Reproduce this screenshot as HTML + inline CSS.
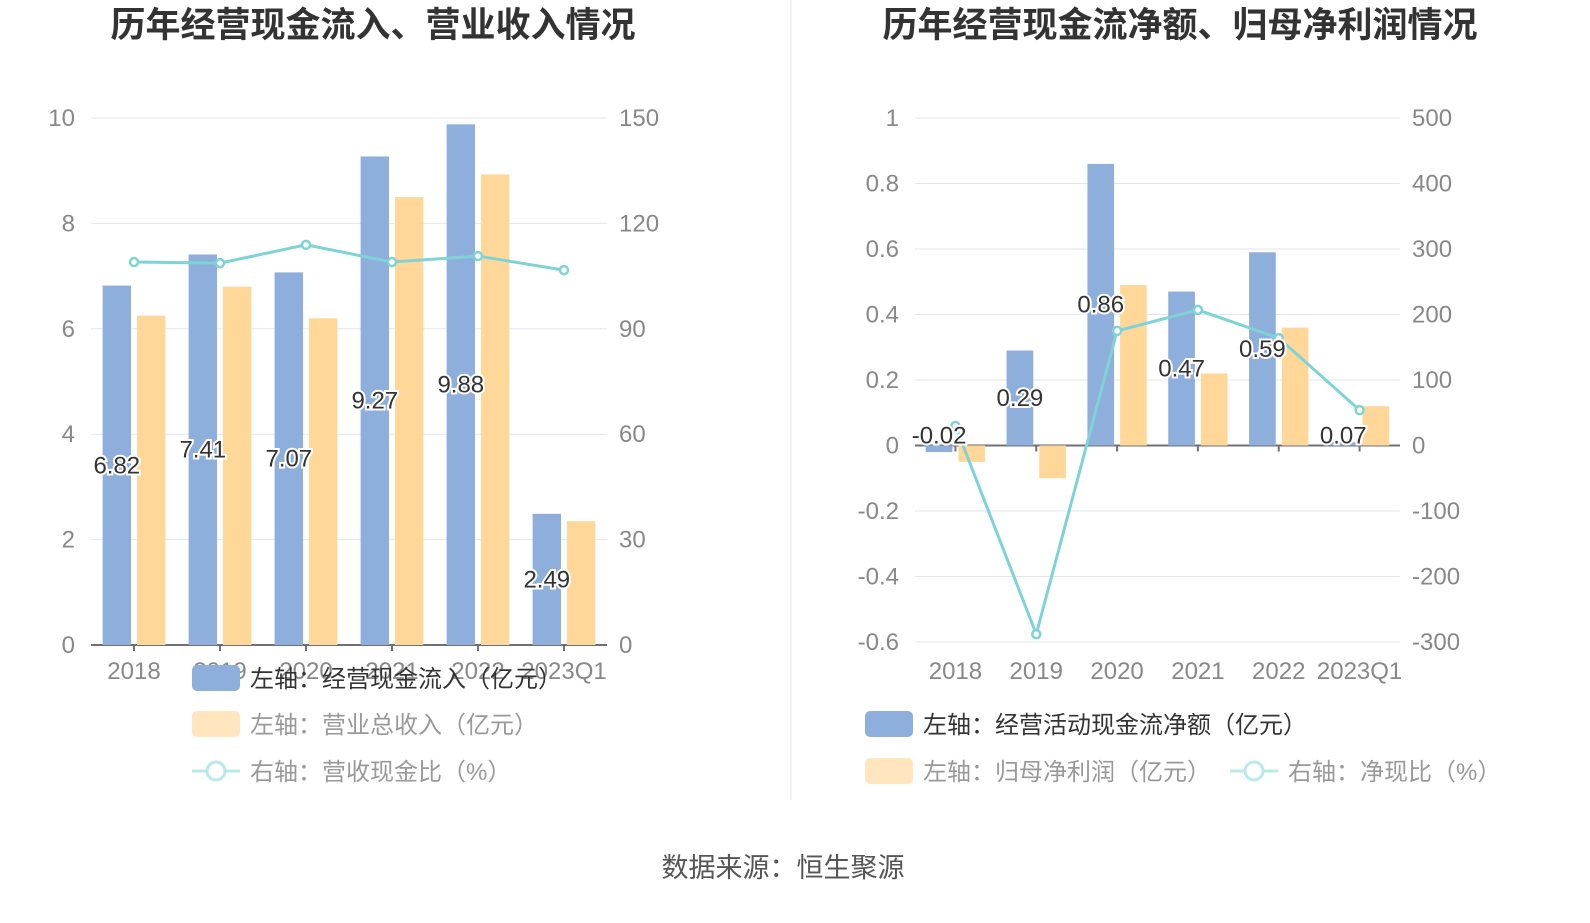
<!DOCTYPE html>
<html><head><meta charset="utf-8"><style>
body{margin:0;background:#fff;font-family:"Liberation Sans","Noto Sans CJK SC",sans-serif}
svg text{font-family:"Liberation Sans","Noto Sans CJK SC",sans-serif}
</style></head><body>
<svg id="c" width="1590" height="918">
<text x="373" y="37" text-anchor="middle" font-size="35" font-weight="bold" fill="#333">历年经营现金流入、营业收入情况</text>
<text x="1180" y="37" text-anchor="middle" font-size="35" font-weight="bold" fill="#333">历年经营现金流净额、归母净利润情况</text>
<line x1="791" y1="0" x2="791" y2="800" stroke="#e6e6e6"/>
<text x="783" y="877" text-anchor="middle" font-size="27" fill="#555">数据来源：恒生聚源</text>
<g id="L"></g>
<g id="R"></g>
</svg>
<script>
const cats=["2018","2019","2020","2021","2022","2023Q1"];
const leftInflow=[6.82,7.41,7.07,9.27,9.88,2.49];
const leftRevenue=[6.25,6.8,6.2,8.5,8.93,2.35];
const leftRatio=[109,108.7,113.9,109,110.7,106.7];
const leftTicks=[0,2,4,6,8,10];
const leftRTicks=[0,30,60,90,120,150];
const rightCash=[-0.02,0.29,0.86,0.47,0.59,0.01];
const rightCashLabels=["-0.02","0.29","0.86","0.47","0.59","0.07"];
const rightProfit=[-0.05,-0.1,0.49,0.22,0.36,0.12];
const rightRatio=[30,-288,175,207,164,54];
const rightTicks=[-0.6,-0.4,-0.2,0,0.2,0.4,0.6,0.8,1];
const rightRTicks=[-300,-200,-100,0,100,200,300,400,500];
const NS="http://www.w3.org/2000/svg";
function mk(p,t,a,txt){const e=document.createElementNS(NS,t);for(const k in a)e.setAttribute(k,a[k]);if(txt!==undefined)e.textContent=txt;p.appendChild(e);return e;}
function chart(g,o){
 const y=v=>o.y0+(v-o.min)/(o.max-o.min)*(o.y1-o.y0);
 const yr=v=>o.y0+(v-o.rmin)/(o.rmax-o.rmin)*(o.y1-o.y0);
 const band=(o.x1-o.x0)/cats.length;
 const cx=i=>o.x0+band*(i+0.5);
 o.ticks.forEach(t=>{
  const l=mk(g,'line',{x1:o.x0,x2:o.x1,y1:y(t),y2:y(t),stroke:'#e0e6f1'});
  
  
  const tx=mk(g,'text',{x:o.x0-16,y:y(t)+8,'text-anchor':'end','font-size':24,fill:'#888'},String(t));
  
  
 });
 o.rticks.forEach(t=>{
  const tx=mk(g,'text',{x:o.x1+12,y:yr(t)+8,'font-size':24,fill:'#888'},String(t));
  
  
 });
 const z=y(0);
 const ax=mk(g,'line',{x1:o.x0,x2:o.x1,y1:z,y2:z,stroke:'#6e7079','stroke-width':2});
 
 
 cats.forEach((c,i)=>{
  const tk=mk(g,'line',{x1:cx(i),x2:cx(i),y1:z,y2:z+6,stroke:'#6e7079','stroke-width':2});
  
  
  const t=mk(g,'text',{x:cx(i),y:o.labY,'text-anchor':'middle','font-size':24,fill:'#888'},c);
  
  
 });
 const bw=band*0.33;
 o.a.forEach((v,i)=>{
  const r=mk(g,'rect',{x:cx(i)-bw-3,y:Math.min(y(v),z),width:bw,height:Math.abs(y(v)-z),fill:'#8eaedb'});
  
  
 });
 o.b.forEach((v,i)=>{
  const r=mk(g,'rect',{x:cx(i)+3,y:Math.min(y(v),z),width:bw,height:Math.abs(y(v)-z),fill:'#ffd899'});
  
  
 });
 const pts=o.line.map((v,i)=>cx(i)+','+yr(v)).join(' ');
 const pl=mk(g,'polyline',{points:pts,fill:'none',stroke:'#7fd3d6','stroke-width':3});
 
 
 o.line.forEach((v,i)=>{
  const c=mk(g,'circle',{cx:cx(i),cy:yr(v),r:4,fill:'#fff',stroke:'#7fd3d6','stroke-width':2.5});
  
  
 });
 o.a.forEach((v,i)=>{
  const my=Math.abs(v)<0.05&&o.min<0?z-10:(y(v)+z)/2;
  const t=mk(g,'text',{x:cx(i)-bw/2-3,y:my+8,'text-anchor':'middle','font-size':24,fill:'#333',stroke:'#fff','stroke-width':4,'paint-order':'stroke'},o.labels[i]);
  
  
 });
}
chart(document.getElementById('L'),{x0:91,x1:607,y0:645,y1:118,min:0,max:10,rmin:0,rmax:150,ticks:leftTicks,rticks:leftRTicks,a:leftInflow,b:leftRevenue,line:leftRatio,labels:leftInflow.map(String),an:'inflow',bn:'revenue',labY:679});
chart(document.getElementById('R'),{x0:915,x1:1400,y0:642,y1:118,min:-0.6,max:1,rmin:-300,rmax:500,ticks:rightTicks,rticks:rightRTicks,a:rightCash,b:rightProfit,line:rightRatio,labels:rightCashLabels,an:'net-cash',bn:'net-profit',labY:679});
function legend(x,y,type,txt,name){
 const g=mk(document.getElementById('c'),'g',{});
 
 
 if(type==='line'){mk(g,'line',{x1:x,x2:x+48,y1:y,y2:y,stroke:'#b9e9ea','stroke-width':3});mk(g,'circle',{cx:x+24,cy:y,r:9,fill:'#fff',stroke:'#b9e9ea','stroke-width':3});}
 else mk(g,'rect',{x:x,y:y-13,width:48,height:26,rx:5,fill:type});
 mk(g,'text',{x:x+58,y:y+9,'font-size':24,fill:type==='#8eaedb'?'#333':'#999'},txt);
}
legend(192,678,'#8eaedb','左轴：经营现金流入（亿元）','legend-inflow');
legend(192,724,'#ffe6bf','左轴：营业总收入（亿元）','legend-revenue');
legend(192,771,'line','右轴：营收现金比（%）','legend-revenue-cash-ratio');
legend(865,724,'#8eaedb','左轴：经营活动现金流净额（亿元）','legend-net-cash');
legend(865,771,'#ffe6bf','左轴：归母净利润（亿元）','legend-net-profit');
legend(1230,771,'line','右轴：净现比（%）','legend-net-cash-ratio');
</script>
</body></html>
